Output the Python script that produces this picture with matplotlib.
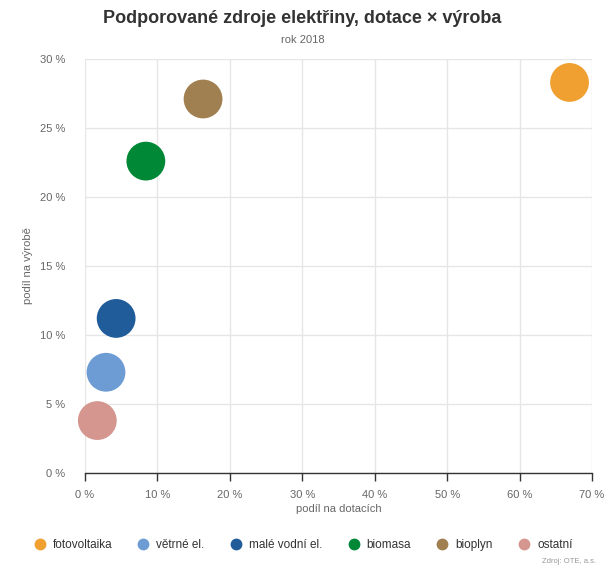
import matplotlib
matplotlib.use("Agg")
import matplotlib.pyplot as plt
from matplotlib.ticker import FuncFormatter, MultipleLocator
from matplotlib.lines import Line2D

plt.rcParams['font.family'] = ['Liberation Sans', 'DejaVu Sans']

categories = ["fotovoltaika", "větrné el.", "malé vodní el.", "biomasa", "bioplyn", "ostatní"]
dotace = [66.9, 2.9, 4.3, 8.4, 16.3, 1.7]
vyroba = [28.3, 7.3, 11.2, 22.6, 27.1, 3.8]
colors = ["#f0a030", "#6d9bd3", "#1f5c99", "#008837", "#a08050", "#d4968f"]

fig = plt.figure(figsize=(6.05, 5.66), dpi=100)
ax = fig.add_axes([0.1405, 0.1643, 0.838, 0.7315])

for c, x, y, col in zip(categories, dotace, vyroba, colors):
    ax.scatter([x], [y], s=780, color=col, edgecolors='none', label=c, zorder=3, clip_on=False)

ax.set_xlim(0, 70)
ax.set_ylim(0, 30)
ax.xaxis.set_major_locator(MultipleLocator(10))
ax.yaxis.set_major_locator(MultipleLocator(5))
fmt = FuncFormatter(lambda v, p: f"{int(v)} %")
ax.xaxis.set_major_formatter(fmt)
ax.yaxis.set_major_formatter(fmt)
ax.grid(True, color="#e6e6e6", linewidth=1, zorder=0)
for s in ['top', 'right', 'left']:
    ax.spines[s].set_visible(False)
ax.spines['bottom'].set_color('#333333')
ax.spines['bottom'].set_linewidth(1)
ax.tick_params(axis='x', colors='#333333', length=6, width=1, labelcolor='#666666', labelsize=8, pad=6)
ax.tick_params(axis='y', length=0, labelcolor='#666666', labelsize=8, pad=14)
ax.set_xlabel("podíl na dotacích", color='#666666', fontsize=8, labelpad=3)
ax.set_ylabel("podíl na výrobě", color='#666666', fontsize=8, labelpad=5)

fig.text(0.5, 0.967, "Podporované zdroje elektřiny, dotace × výroba", ha='center', va='center',
         fontsize=13, fontweight='bold', color='#333333')
fig.text(0.5, 0.930, "rok 2018", ha='center', va='center', fontsize=8, color='#666666')

handles = [Line2D([], [], marker='o', linestyle='none', markersize=8.5, color=col,
                  markeredgecolor='none') for col in colors]
leg = fig.legend(handles, categories, loc='center', bbox_to_anchor=(0.5, 0.037), ncol=6, frameon=False,
                 fontsize=8.5, handletextpad=0.5, columnspacing=2.05, handlelength=1.2,
                 labelcolor='#333333')
fig.text(0.985, 0.002, "Zdroj: OTE, a.s.", ha='right', va='bottom', fontsize=5.5, color='#999999')

fig.savefig("out.png", dpi=100, facecolor='white')
